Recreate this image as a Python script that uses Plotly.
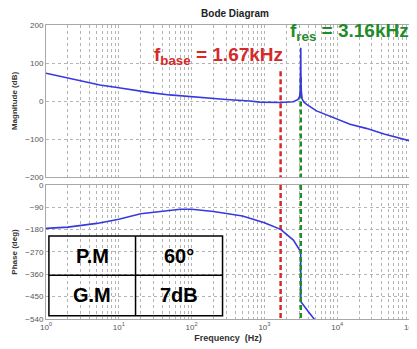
import plotly.graph_objects as go
from plotly.subplots import make_subplots

# ---- data ----
freq_mag = [1, 2, 5.5, 10, 27, 50, 130, 300, 630, 870, 1670, 2500, 2900, 3050, 3120, 3150,
            3160, 3170, 3200, 3300, 3500, 3800, 5200, 8700, 15000, 25000, 44000, 100000]
mag_db = [73, 60, 42, 35, 22, 16, 9, 4, 0, -3, -4, -2, 4, 12, 30, 80,
          140, 80, 30, 5, -3, -9, -26, -43, -61, -72, -87, -105]

freq_ph = [1, 2, 5, 10, 20, 50, 70, 100, 200, 500, 1000, 1670, 2500, 3150,
           3170, 4000, 4900, 6000]
phase_deg = [-175, -170, -155, -138, -116, -102, -98, -98, -107, -125, -152, -179, -222, -269,
             -470, -510, -542, -575]

f_base = 1670
f_res = 3160
base_label = "f<sub>base</sub> = 1.67kHz"
res_label = "f<sub>res</sub> = 3.16kHz"
base_top_db = 78
res_top_db = 62

mag_ticks = [200, 100, 0, -100, -200]
phase_ticks = [0, -90, -180, -270, -360, -450, -540]
decades = [1, 10, 100, 1000, 10000, 100000]
decade_labels = ["10<sup>0</sup>", "10<sup>1</sup>", "10<sup>2</sup>",
                 "10<sup>3</sup>", "10<sup>4</sup>", "10<sup>5</sup>"]
minor_mult = [1, 2, 3, 4, 5, 6, 7, 8, 9]

table_cells = [["P.M", "60°"], ["G.M", "7dB"]]

# ---- styling ----
BLUE = "#3838e0"
RED = "#d42a2a"
GREEN = "#1f8c2a"
GRID = "#b4b4b4"
FRAME = "#a8a8a8"
TICKFONT = dict(family="Liberation Sans, Arial", size=8, color="#555555")

xtickvals, xticktext = [], []
for d, lab in zip(decades, decade_labels):
    for m in minor_mult:
        v = d * m
        if v > decades[-1]:
            break
        xtickvals.append(v)
        xticktext.append(lab if m == 1 else "")

fig = make_subplots(rows=2, cols=1, shared_xaxes=False, vertical_spacing=0.0)

# dashed markers
fig.add_trace(go.Scatter(x=[f_base, f_base], y=[base_top_db, mag_ticks[-1]], mode="lines",
                         line=dict(color=RED, width=2.5, dash="5px,3px"), showlegend=False), 1, 1)
fig.add_trace(go.Scatter(x=[f_res, f_res], y=[res_top_db, mag_ticks[-1]], mode="lines",
                         line=dict(color=GREEN, width=2.5, dash="5px,3px"), showlegend=False), 1, 1)
fig.add_trace(go.Scatter(x=[f_base, f_base], y=[phase_ticks[0], phase_ticks[-1]], mode="lines",
                         line=dict(color=RED, width=2.5, dash="5px,3px"), showlegend=False), 2, 1)

fig.add_trace(go.Scatter(x=freq_mag, y=mag_db, mode="lines",
                         line=dict(color=BLUE, width=1.6), showlegend=False), 1, 1)
fig.add_trace(go.Scatter(x=freq_ph, y=phase_deg, mode="lines",
                         line=dict(color=BLUE, width=1.6), showlegend=False), 2, 1)
fig.add_trace(go.Scatter(x=[f_res, f_res], y=[phase_ticks[0], phase_ticks[-1]], mode="lines",
                         line=dict(color=GREEN, width=2.5, dash="5px,3px"), showlegend=False), 2, 1)

axis_common = dict(showline=True, mirror=True, linecolor=FRAME, linewidth=1,
                   showgrid=True, gridcolor=GRID, griddash="dot", gridwidth=1,
                   zeroline=False, ticks="", tickfont=TICKFONT, automargin=False)

fig.update_xaxes(type="log", range=[0, 5], tickmode="array", tickvals=xtickvals,
                 ticktext=xticktext, **axis_common)
fig.update_xaxes(showticklabels=False, row=1, col=1)
fig.update_xaxes(title=dict(text="<b>Frequency  (Hz)</b>", standoff=4,
                            font=dict(family="Liberation Sans, Arial", size=9, color="#333333")),
                 row=2, col=1)

fig.update_yaxes(range=[-200, 200], tickmode="array", tickvals=mag_ticks,
                 title=dict(text="<b>Magnitude (dB)</b>", standoff=6,
                            font=dict(family="Liberation Sans, Arial", size=8, color="#333333")),
                 row=1, col=1, **axis_common)
fig.update_yaxes(range=[-540, 0], tickmode="array", tickvals=phase_ticks,
                 title=dict(text="<b>Phase (deg)</b>", standoff=6,
                            font=dict(family="Liberation Sans, Arial", size=8, color="#333333")),
                 row=2, col=1, **axis_common)

# page body has an 8px margin: figure is 409x341 placed at (8, 8)
fig.update_layout(
    width=409, height=341,
    margin=dict(l=38, r=7, t=17, b=30),
    paper_bgcolor="white", plot_bgcolor="white",
    xaxis=dict(domain=[0, 1]), xaxis2=dict(domain=[0, 1]),
    yaxis=dict(domain=[0.483, 1.0]), yaxis2=dict(domain=[0, 0.456]),
    title=dict(text="<b>Bode Diagram</b>", x=0.555, xanchor="center", y=0.985, yanchor="middle",
               font=dict(family="Liberation Sans, Arial", size=10, color="#222222")),
)

# frequency labels
fig.add_annotation(text="<b>" + base_label + "</b>", xref="paper", yref="paper",
                   x=0.290, y=0.893, xanchor="left", yanchor="middle", showarrow=False,
                   font=dict(family="Liberation Sans, Arial", size=19, color=RED))
fig.add_annotation(text="<b>" + res_label + "</b>", xref="paper", yref="paper",
                   x=0.665, y=0.975, xanchor="left", yanchor="middle", showarrow=False,
                   font=dict(family="Liberation Sans, Arial", size=19, color=GREEN))

# margin table
tx0, tx1, tx2 = 0.008, 0.246, 0.485
ty0, ty1, ty2 = 0.011, 0.149, 0.282
fig.add_shape(type="rect", xref="paper", yref="paper", x0=tx0, x1=tx2, y0=ty0, y1=ty2,
              line=dict(color="black", width=1.5))
fig.add_shape(type="line", xref="paper", yref="paper", x0=tx0, x1=tx2, y0=ty1, y1=ty1,
              line=dict(color="black", width=1.5))
fig.add_shape(type="line", xref="paper", yref="paper", x0=tx1, x1=tx1, y0=ty0, y1=ty2,
              line=dict(color="black", width=1.5))
row_y = [(ty1 + ty2) / 2, (ty0 + ty1) / 2]
col_x = [(tx0 + tx1) / 2, (tx1 + tx2) / 2]
for r, row in enumerate(table_cells):
    for c, txt in enumerate(row):
        fig.add_annotation(text="<b>" + txt + "</b>", xref="paper", yref="paper",
                           x=col_x[c], y=row_y[r], xanchor="center", yanchor="middle",
                           showarrow=False,
                           font=dict(family="Liberation Sans, Arial", size=20, color="black"))

fig.write_html("out.html")
